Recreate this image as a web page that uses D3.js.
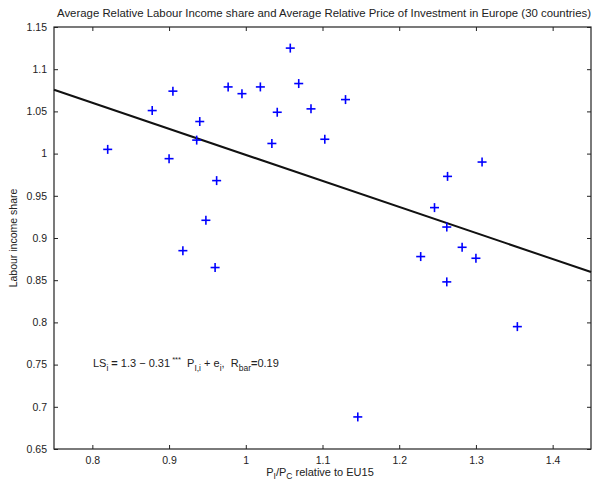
<!DOCTYPE html>
<meta charset="utf-8">
<style>
body { margin: 0; background: #fff; }
svg text { font-family: "Liberation Sans", Arial, Helvetica, sans-serif; fill: #222; }
.tick text { font-size: 10.5px; }
.tick line { stroke: #222; }
.pt { stroke: #0000ff; stroke-width: 1.6px; }
.eq { white-space: pre; }
</style>
<svg width="607" height="482"></svg>
<script src="https://d3js.org/d3.v7.min.js"></script>
<script>

// relative price of investment (x) and relative labour income share (y), 30 countries
var priceInv = [1.058, 1.069, 0.977, 1.019, 0.995, 0.905, 1.130, 1.085, 1.041, 0.878,
                0.940, 1.103, 0.936, 1.034, 0.820, 0.900, 0.962, 0.948, 0.918, 0.960,
                1.308, 1.263, 1.246, 1.262, 1.282, 1.228, 1.300, 1.262, 1.354, 1.146];
var labourShare = [1.125, 1.083, 1.079, 1.079, 1.071, 1.074, 1.064, 1.053, 1.049, 1.051,
                   1.038, 1.017, 1.016, 1.012, 1.005, 0.994, 0.968, 0.921, 0.885, 0.865,
                   0.990, 0.973, 0.936, 0.913, 0.889, 0.878, 0.876, 0.848, 0.795, 0.688];

var xTicks = [0.8, 0.9, 1, 1.1, 1.2, 1.3, 1.4];
var yTicks = [0.65, 0.7, 0.75, 0.8, 0.85, 0.9, 0.95, 1, 1.05, 1.1, 1.15];

// fitted line LS = a + b * P
var fitA = 1.307, fitB = -0.3085;

// note: "top" is taken by window.top, so use plot* names
var svg = d3.select("svg"),
    plotL = 54, plotR = 591, plotT = 27, plotB = 449;

var x = d3.scaleLinear().domain([0.75, 1.45]).range([plotL, plotR]);
var y = d3.scaleLinear().domain([0.65, 1.15]).range([plotB, plotT]);

var fmt = function(d) { return String(d); };

// ticks point inward, on all four sides like a matlab box
svg.append("g").attr("transform", "translate(0," + plotB + ")")
    .call(d3.axisBottom(x).tickValues(xTicks).tickFormat(fmt).tickSizeInner(-4).tickSizeOuter(0).tickPadding(8));
svg.append("g").attr("transform", "translate(0," + plotT + ")")
    .call(d3.axisTop(x).tickValues(xTicks).tickFormat("").tickSizeInner(-4).tickSizeOuter(0));
svg.append("g").attr("transform", "translate(" + plotL + ",0)")
    .call(d3.axisLeft(y).tickValues(yTicks).tickFormat(fmt).tickSizeInner(-4).tickSizeOuter(0).tickPadding(7));
svg.append("g").attr("transform", "translate(" + plotR + ",0)")
    .call(d3.axisRight(y).tickValues(yTicks).tickFormat("").tickSizeInner(-4).tickSizeOuter(0));

svg.selectAll(".domain").remove();

svg.append("rect")
    .attr("x", plotL).attr("y", plotT)
    .attr("width", plotR - plotL).attr("height", plotB - plotT)
    .attr("fill", "none").attr("stroke", "#222").attr("stroke-width", 1.2);

// regression line
svg.append("line")
    .attr("x1", x(0.75)).attr("y1", y(fitA + fitB * 0.75))
    .attr("x2", x(1.45)).attr("y2", y(fitA + fitB * 1.45))
    .attr("stroke", "#111").attr("stroke-width", 2);

// plus markers
var pts = svg.append("g").selectAll("g")
    .data(priceInv.map(function(p, i) { return [p, labourShare[i]]; }))
    .enter().append("g")
    .attr("transform", function(d) { return "translate(" + x(d[0]) + "," + y(d[1]) + ")"; });
pts.append("line").attr("class", "pt").attr("x1", -4.5).attr("x2", 4.5);
pts.append("line").attr("class", "pt").attr("y1", -4.5).attr("y2", 4.5);

// title
svg.append("text")
    .attr("x", 324).attr("y", 17)
    .attr("text-anchor", "middle")
    .style("font-size", "11.4px")
    .text("Average Relative Labour Income share and Average Relative Price of Investment in Europe (30 countries)");

// axis labels
var xl = svg.append("text")
    .attr("x", 320).attr("y", 476)
    .attr("text-anchor", "middle")
    .style("font-size", "11px");
xl.append("tspan").text("P");
xl.append("tspan").attr("dy", 3).style("font-size", "8.5px").text("I");
xl.append("tspan").attr("dy", -3).text("/P");
xl.append("tspan").attr("dy", 3).style("font-size", "8.5px").text("C");
xl.append("tspan").attr("dy", -3).text(" relative to EU15");

svg.append("text")
    .attr("transform", "translate(17," + ((plotT + plotB) / 2) + ") rotate(-90)")
    .attr("text-anchor", "middle")
    .style("font-size", "10.5px")
    .text("Labour income share");

// equation annotation
var eq = svg.append("text")
    .attr("class", "eq")
    .attr("x", 93).attr("y", 367)
    .style("font-size", "11px");
eq.append("tspan").text("LS");
eq.append("tspan").attr("dy", 4).style("font-size", "8.5px").text("i");
eq.append("tspan").attr("dy", -4).attr("dx", 3).style("font-weight", "bold").text("=");
eq.append("tspan").text(" 1.3 \u2212 0.31");
eq.append("tspan").attr("dy", -5).style("font-size", "7.5px").text(" ***");
eq.append("tspan").attr("dy", 5).text("  P");
eq.append("tspan").attr("dy", 4).style("font-size", "8.5px").text("I,i");
eq.append("tspan").attr("dy", -4).text(" + e");
eq.append("tspan").attr("dy", 4).style("font-size", "8.5px").text("i");
eq.append("tspan").attr("dy", -4).text(",  R");
eq.append("tspan").attr("dy", 4).style("font-size", "8.5px").text("bar");
eq.append("tspan").attr("dy", -4).style("font-weight", "bold").text("=");
eq.append("tspan").text("0.19");

</script>
